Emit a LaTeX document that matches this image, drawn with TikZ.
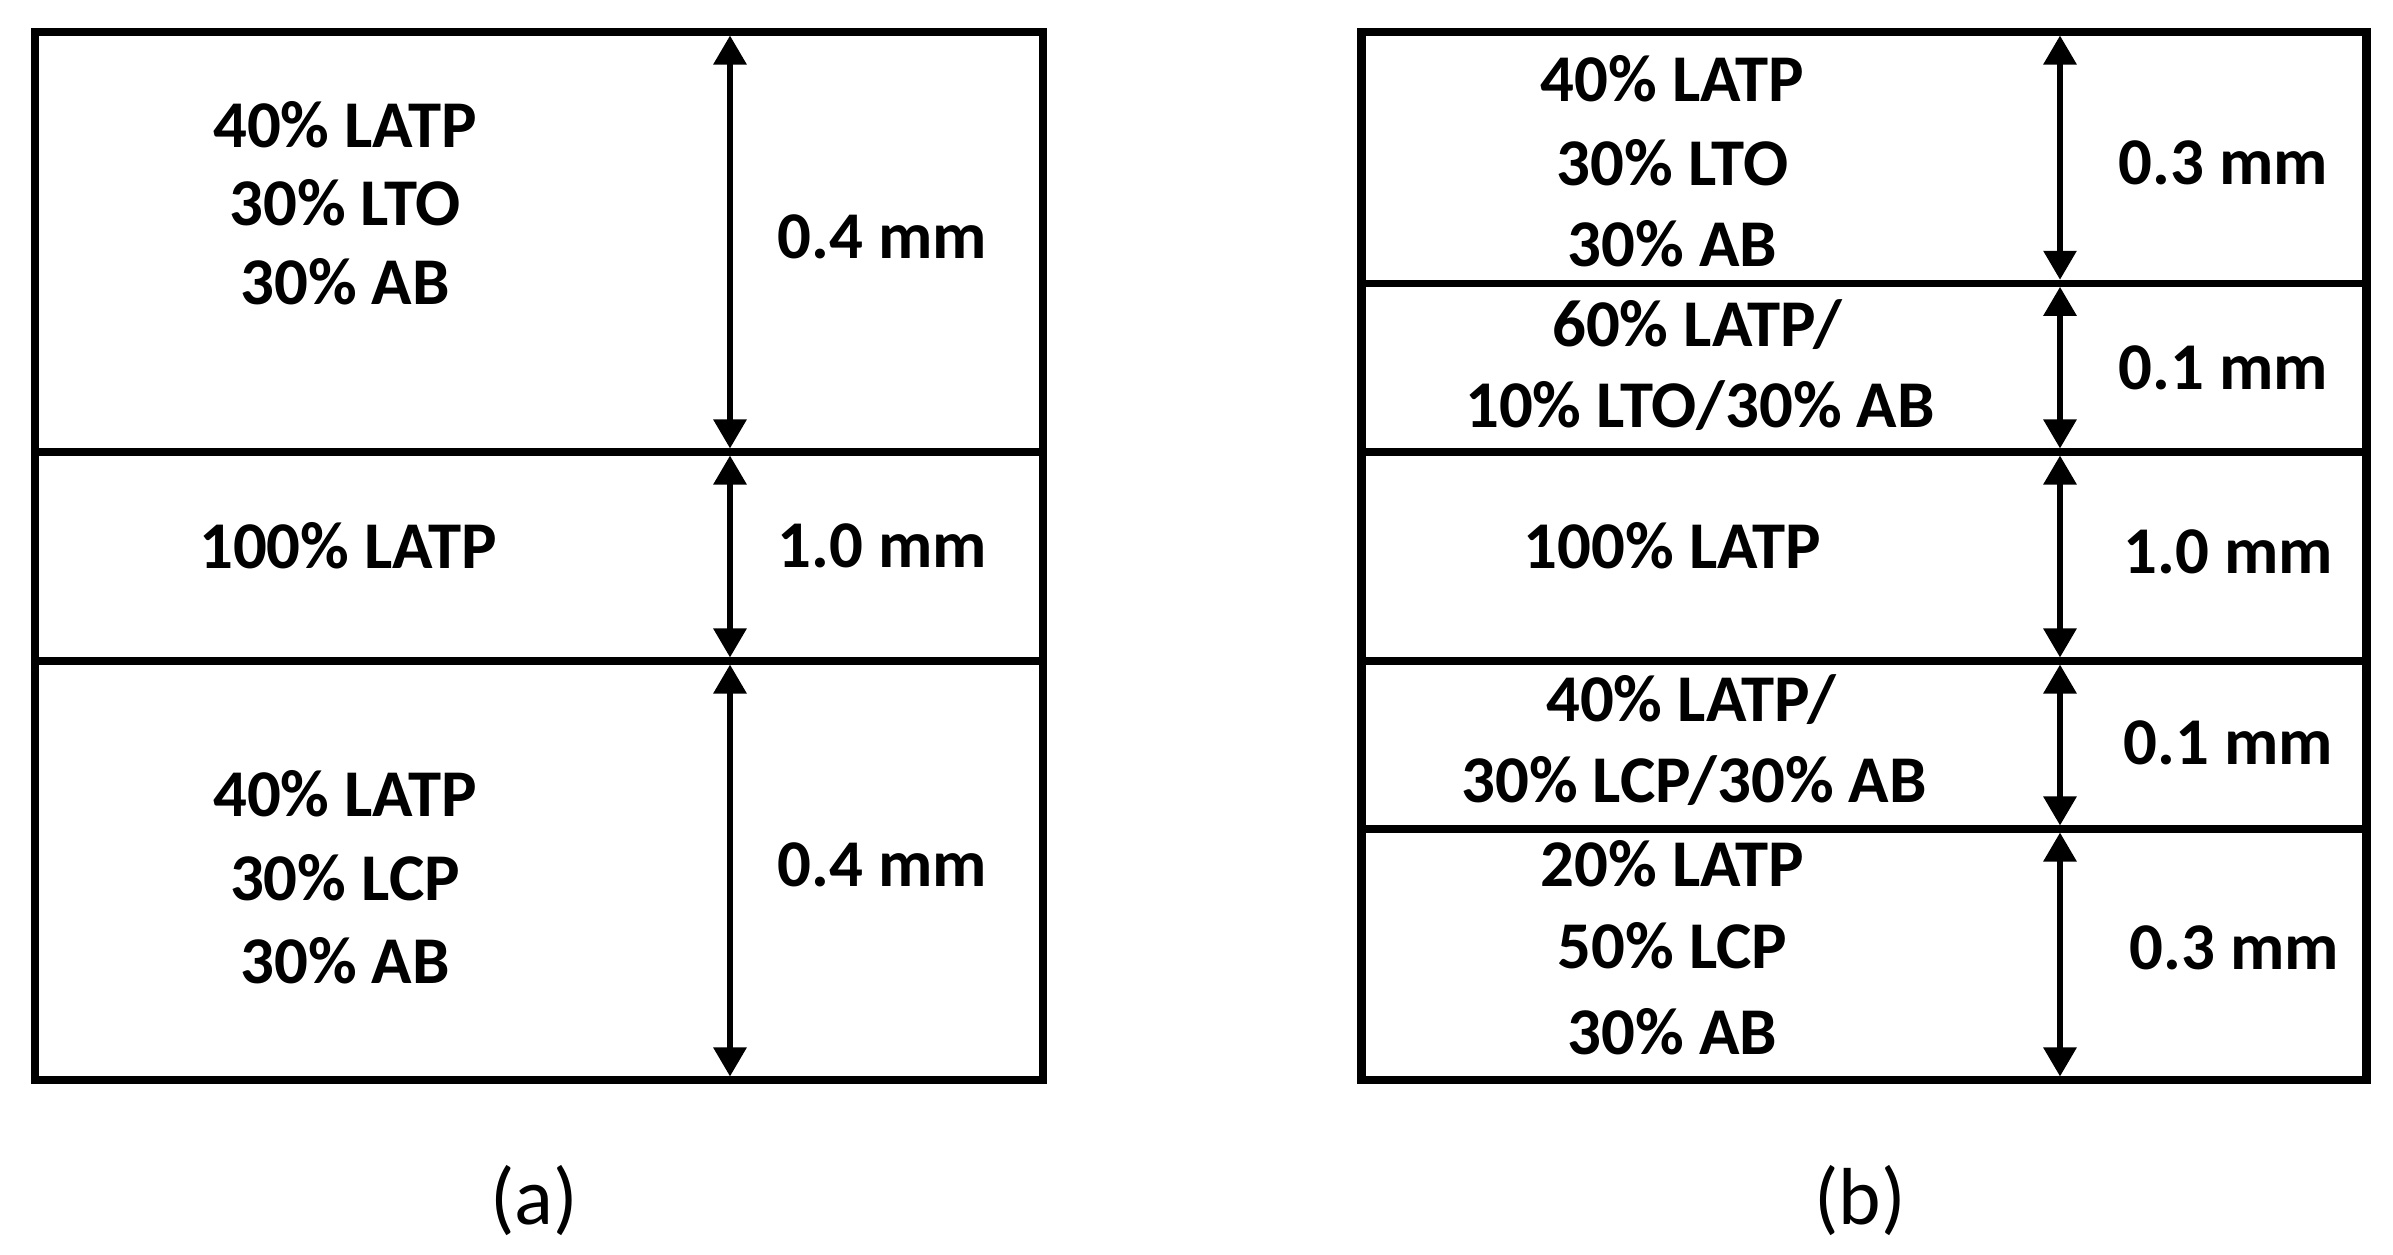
\documentclass[tikz,border=0pt]{standalone}
\usepackage{fontspec}
\setmainfont{Carlito}
\usetikzlibrary{arrows.meta}
\tikzset{
  borderline/.style={line width=2.3pt},
  layerline/.style={line width=2.1pt},
  dimarrow/.style={line width=1.7pt,shorten >=0.035cm,shorten <=0.035cm,
    {Triangle[length=0.29cm,width=0.32cm]}-{Triangle[length=0.29cm,width=0.32cm]}},
  lbl/.style={font=\fontsize{19}{23}\selectfont\bfseries,align=center,inner sep=0pt},
  sublabel/.style={font=\fontsize{23}{27}\selectfont,inner sep=0pt}
}
\begin{document}
\begin{tikzpicture}[x=0.01cm,y=-0.01cm]
\useasboundingbox[fill=white] (0,0) rectangle (2393,1255);
% ---------- panel (a) ----------
\draw[layerline] (35,452) -- (1043,452);
\draw[layerline] (35,661) -- (1043,661);
\draw[borderline] (35,32) rectangle (1043,1080);
\coordinate (a0) at (730,32);
\coordinate (a1) at (730,452);
\coordinate (a2) at (730,661);
\coordinate (a3) at (730,1080);
\draw[dimarrow] (a0) -- (a1);
\draw[dimarrow] (a1) -- (a2);
\draw[dimarrow] (a2) -- (a3);
\node[lbl] (at1) at (345,125) {40\% LATP};
\node[lbl] (at2) at (345,203) {30\% LTO};
\node[lbl] (at3) at (345,282) {30\% AB};
\node[lbl] (ad1) at (882,236.5) {0.4 mm};
\node[lbl] (am1) at (348,546) {100\% LATP};
\node[lbl] (ad2) at (882,546) {1.0 mm};
\node[lbl] (ab1) at (345,793.5) {40\% LATP};
\node[lbl] (ab2) at (345,877.5) {30\% LCP};
\node[lbl] (ab3) at (345,961) {30\% AB};
\node[lbl] (ad3) at (882,865) {0.4 mm};
\node[sublabel] (capa) at (534,1201) {(a)};
% ---------- panel (b) ----------
\draw[layerline] (1361.5,283.3) -- (2366.5,283.3);
\draw[layerline] (1361.5,452) -- (2366.5,452);
\draw[layerline] (1361.5,661) -- (2366.5,661);
\draw[layerline] (1361.5,829) -- (2366.5,829);
\draw[borderline] (1361.5,32) rectangle (2366.5,1080);
\coordinate (b0) at (2060,32);
\coordinate (b1) at (2060,283.3);
\coordinate (b2) at (2060,452);
\coordinate (b3) at (2060,661);
\coordinate (b4) at (2060,829);
\coordinate (b5) at (2060,1080);
\draw[dimarrow] (b0) -- (b1);
\draw[dimarrow] (b1) -- (b2);
\draw[dimarrow] (b2) -- (b3);
\draw[dimarrow] (b3) -- (b4);
\draw[dimarrow] (b4) -- (b5);
\node[lbl] (bt1) at (1672.5,79) {40\% LATP};
\node[lbl] (bt2) at (1672.5,163) {30\% LTO};
\node[lbl] (bt3) at (1672.5,244) {30\% AB};
\node[lbl] (bd1) at (2223,163) {0.3 mm};
\node[lbl] (bg1) at (1697,325) {60\% LATP/};
\node[lbl] (bg2) at (1700,406) {10\% LTO/30\% AB};
\node[lbl] (bd2) at (2223,368) {0.1 mm};
\node[lbl] (bm1) at (1672.5,546) {100\% LATP};
\node[lbl] (bd3) at (2228,552) {1.0 mm};
\node[lbl] (bh1) at (1691,700) {40\% LATP/};
\node[lbl] (bh2) at (1694,781) {30\% LCP/30\% AB};
\node[lbl] (bd4) at (2228,743) {0.1 mm};
\node[lbl] (bb1) at (1672.5,864) {20\% LATP};
\node[lbl] (bb2) at (1672.5,946) {50\% LCP};
\node[lbl] (bb3) at (1672.5,1031.5) {30\% AB};
\node[lbl] (bd5) at (2234,947.6) {0.3 mm};
\node[sublabel] (capb) at (1860,1201) {(b)};
\end{tikzpicture}
\end{document}
